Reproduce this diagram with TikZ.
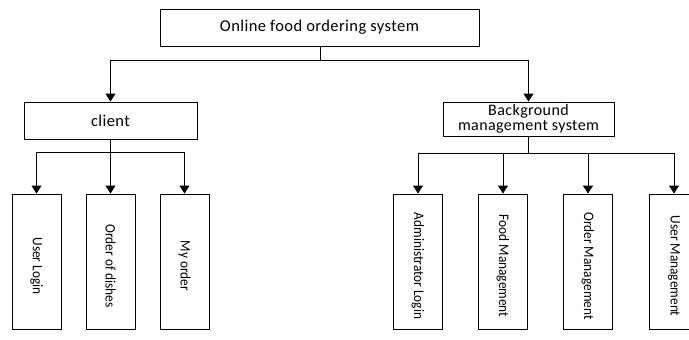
\documentclass[tikz,border=0pt]{standalone}
\usepackage{fontspec}
\setmainfont[LetterSpace=2.5]{Carlito}
\newfontfamily\vfont[FakeStretch=0.92]{Carlito}
\usetikzlibrary{arrows.meta}
\tikzset{
  box/.style={draw, line width=0.9pt, inner sep=0pt, font=\fontsize{16}{15}\selectfont, align=center},
  leaf/.style={draw, line width=0.9pt, inner sep=0pt, minimum width=49pt, minimum height=135pt},
  vtext/.style={rotate=-90, inner sep=0pt, font=\vfont\fontsize{14.5}{16}\selectfont},
  link/.style={line width=0.9pt},
  arr/.style={line width=0.9pt, -{Triangle[width=10pt,length=8pt]}}
}
\begin{document}
\begin{tikzpicture}[x=1pt,y=-1pt]
\useasboundingbox (0,0) rectangle (689,340);
\clip (0,0) rectangle (689,340);
% top
\node[box, font=\fontsize{16.5}{15}\selectfont, minimum width=319pt, minimum height=37pt] (top) at (319.5,27.5) {Online food ordering system};
\node[box, font=\fontsize{16.5}{15}\selectfont, minimum width=173pt, minimum height=37pt] (client) at (110.5,120.5) {client};
\node[box, minimum width=171pt, minimum height=34pt] (bg) at (528.5,119) {Background\\management system};
% leaves
\node[leaf] (ul) at (36.5,261.5) {};
\node[leaf] (od) at (110.5,261.5) {};
\node[leaf] (mo) at (184.5,261.5) {};
\node[leaf] (al) at (418,261.5) {};
\node[leaf] (fm) at (503,261.5) {};
\node[leaf] (om) at (588,261.5) {};
\node[leaf] (um) at (674,261.5) {};
\node[vtext] (tul) at ([yshift=-4.5pt]ul.center) {User Login};
\node[vtext] (tod) at ([yshift=-4.5pt]od.center) {Order of dishes};
\node[vtext] (tmo) at ([yshift=-4.5pt]mo.center) {My order};
\node[vtext] (tal) at ([yshift=-4.5pt]al.center) {Administrator Login};
\node[vtext] (tfm) at ([yshift=-4.5pt]fm.center) {Food Management};
\node[vtext] (tom) at ([yshift=-4.5pt]om.center) {Order Management};
\node[vtext] (tum) at ([yshift=-4.5pt]um.center) {User Management};
% connectors
\coordinate (j1) at (320,60);
\coordinate (j2) at (110.5,152);
\coordinate (j3) at (528.5,153);
\draw[link] (top.south -| j1) -- (j1);
\draw[arr] (j1) -| (client.north);
\draw[arr] (j1) -| (bg.north);
\draw[link] (client.south) -- (j2);
\draw[arr] (j2) -| (ul.north);
\draw[arr] (j2) -- (od.north);
\draw[arr] (j2) -| (mo.north);
\draw[link] (bg.south) -- (j3);
\draw[arr] (j3) -| (al.north);
\draw[arr] (j3) -| (fm.north);
\draw[arr] (j3) -| (om.north);
\draw[arr] (j3) -| (um.north);
\end{tikzpicture}
\end{document}
